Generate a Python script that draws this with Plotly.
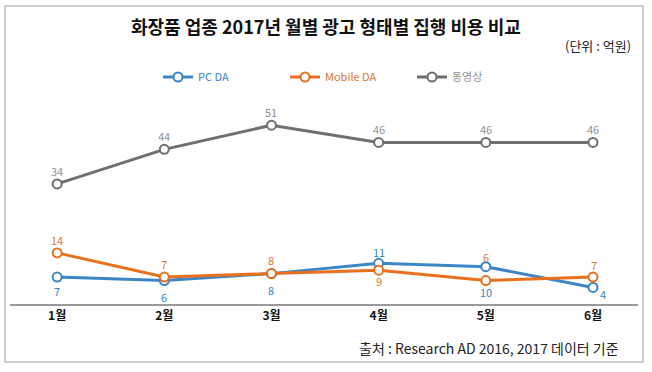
import plotly.graph_objects as go

months = ["1월", "2월", "3월", "4월", "5월", "6월"]
pc_da = [7, 6, 8, 11, 10, 4]
mobile_da = [14, 7, 8, 9, 6, 7]
video = [34, 44, 51, 46, 46, 46]

title_text = "화장품 업종 2017년 월별 광고 형태별 집행 비용 비교"
unit_text = "(단위 : 억원)"
source_text = "출처 : Research AD 2016, 2017 데이터 기준"

W, H = 652, 372
ML, MR, MT, MB = 10, 14, 100, 68
PW, PH = W - ML - MR, H - MT - MB

def px(x):
    return (x - ML) / PW

def py(y):
    return (H - MB - y) / PH

FONT = "Noto Sans CJK KR"
C_PC, C_MO, C_VI = "#3d86c6", "#e8701f", "#6f6f6f"
L_PC, L_MO, L_VI = "#3a82bd", "#d9772f", "#909090"

fig = go.Figure()
for name, vals, col, lcol in [("PC DA", pc_da, C_PC, L_PC), ("Mobile DA", mobile_da, C_MO, L_MO), ("동영상", video, C_VI, L_VI)]:
    fig.add_trace(go.Scatter(
        x=months, y=vals, name="<span style='color:%s'>%s</span>" % (lcol, name), mode="lines+markers",
        line=dict(color=col, width=3),
        marker=dict(symbol="circle", size=9, color="white", line=dict(color=col, width=2)),
        hoverinfo="skip",
    ))

# label offsets (pixels) per series
pc_off = [(0, -14), (0, -16), (0, -16), (0, 11), (0, -25), (10, -7)]
mo_off = [(0, 13), (0, 13), (0, 14), (0, -11), (0, 24), (1, 12)]
vi_off = [(0, 13), (0, 13), (0, 13), (0, 13), (0, 13), (0, 13)]

annotations = []
for vals, offs, col in [(pc_da, pc_off, L_PC), (mobile_da, mo_off, L_MO), (video, vi_off, L_VI)]:
    for m, v, (dx, dy) in zip(months, vals, offs):
        annotations.append(dict(
            x=m, y=v, xref="x", yref="y", text=str(v), showarrow=False,
            xshift=dx, yshift=dy, font=dict(family=FONT, size=11, color=col),
        ))

annotations.append(dict(x=px(326), y=py(26), xref="paper", yref="paper", text="<b>" + title_text + "</b>",
                        showarrow=False, xanchor="center", yanchor="middle",
                        font=dict(family=FONT, size=18, color="#111111")))
annotations.append(dict(x=px(633), y=py(45), xref="paper", yref="paper", text=unit_text,
                        showarrow=False, xanchor="right", yanchor="middle",
                        font=dict(family=FONT, size=13, color="#222222")))
annotations.append(dict(x=px(621), y=py(348), xref="paper", yref="paper", text=source_text,
                        showarrow=False, xanchor="right", yanchor="middle",
                        font=dict(family=FONT, size=14, color="#222222")))

shapes = [dict(type="rect", xref="paper", yref="paper",
               x0=px(5), x1=px(643), y0=py(362), y1=py(6),
               line=dict(color="#cfcfcf", width=2), fillcolor="rgba(0,0,0,0)", layer="above")]

fig.update_layout(
    width=W, height=H,
    margin=dict(l=ML, r=MR, t=MT, b=MB),
    paper_bgcolor="white", plot_bgcolor="white",
    showlegend=True,
    legend=dict(orientation="h", x=px(158), y=py(77), xanchor="left", yanchor="middle",
                itemwidth=30, entrywidth=82, entrywidthmode="pixels",
                font=dict(family=FONT, size=11, color="#444444"), bgcolor="rgba(0,0,0,0)"),
    xaxis=dict(range=[-0.44, 5.42], showgrid=False, zeroline=False, showline=True,
               linecolor="#9a9a9a", linewidth=1.5, ticks="",
               tickfont=dict(family=FONT, size=12, color="#111111"),
               tickvals=months, ticktext=["<b>" + m + "</b>" for m in months]),
    yaxis=dict(range=[-0.8, 58.3], showgrid=False, zeroline=False, showticklabels=False, showline=False),
    annotations=annotations, shapes=shapes,
)

fig.write_html("out.html", config={"displayModeBar": False},
               post_script="document.body.style.margin='0';document.body.style.overflow='hidden';")
